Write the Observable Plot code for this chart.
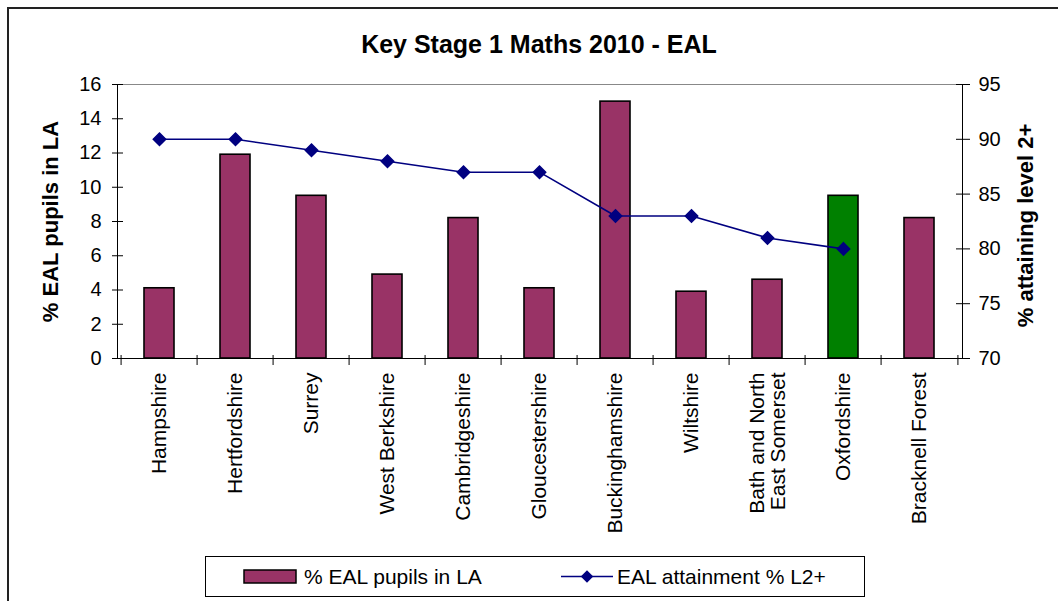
<!DOCTYPE html>
<html>
<head>
<meta charset="utf-8">
<script src="https://cdn.jsdelivr.net/npm/d3@7"></script>
<script src="https://cdn.jsdelivr.net/npm/@observablehq/plot@0.6"></script>
<style>
  body { margin: 0; background: #fff; }
  #wrap { position: relative; width: 1058px; height: 601px; overflow: hidden; background: #fff; font-family: "Liberation Sans", Arial, sans-serif; }
  #frame { position: absolute; left: 7px; top: 7px; width: 1100px; height: 700px; border: 2px solid #222; box-sizing: border-box; z-index: 3; pointer-events: none; }
  #title { position: absolute; left: 0; top: 30px; width: 1078px; text-align: center; font-weight: bold; font-size: 25px; color: #000; }
  #chart { position: absolute; left: 0; top: 64px; }
  #legend { position: absolute; left: 205px; top: 556px; width: 660px; height: 41px; border: 1px solid #000; box-sizing: border-box; background: #fff; }
  #legend svg { display: block; }
</style>
</head>
<body>
<div id="wrap">
  <div id="frame"></div>
  <div id="title">Key Stage 1 Maths 2010 - EAL</div>
  <div id="chart"></div>
  <div id="legend"></div>
</div>
<script>
// ---- data ----
const regions = ["Hampshire", "Hertfordshire", "Surrey", "West Berkshire", "Cambridgeshire", "Gloucestershire", "Buckinghamshire", "Wiltshire", "Bath and North East Somerset", "Oxfordshire", "Bracknell Forest"];
const regionLabels = ["Hampshire", "Hertfordshire", "Surrey", "West Berkshire", "Cambridgeshire", "Gloucestershire", "Buckinghamshire", "Wiltshire", "Bath and North\nEast Somerset", "Oxfordshire", "Bracknell Forest"];
const ealPct = [4.1, 11.9, 9.5, 4.9, 8.2, 4.1, 15.0, 3.9, 4.6, 9.5, 8.2];
const attainment = [90, 90, 89, 88, 87, 87, 83, 83, 81, 80, null];
const highlight = ["Oxfordshire"];
const leftTicks = [0, 2, 4, 6, 8, 10, 12, 14, 16];
const rightTicks = [70, 75, 80, 85, 90, 95];
const seriesNames = ["% EAL pupils in LA", "EAL attainment % L2+"];
const axisTitles = ["% EAL pupils in LA", "% attaining level 2+"];
const barColor = "#993366", highlightColor = "#008000", lineColor = "#000080";

// ---- build ----
const rows = regions.map((r, i) => ({region: r, label: regionLabels[i], eal: ealPct[i], att: attainment[i]}));
const rMin = rightTicks[0], rMax = rightTicks[rightTicks.length - 1];
const lMax = leftTicks[leftTicks.length - 1];
const toLeft = v => (v - rMin) / (rMax - rMin) * lMax;
const fromLeft = v => rMin + v / lMax * (rMax - rMin);

const W = 1058, H = 481, mt = 20, mb = 187, ml = 117, mr = 96;
const pw = W - ml - mr, ph = H - mt - mb;
const step = pw / regions.length;
const font = "Liberation Sans, Arial, sans-serif";

const chart = Plot.plot({
  width: W, height: H,
  marginTop: mt, marginBottom: mb, marginLeft: ml, marginRight: mr,
  style: {fontFamily: font, fontSize: "20px", color: "#000", background: "none", overflow: "visible"},
  x: {type: "band", domain: regions, paddingInner: 0.6, paddingOuter: 0.3, axis: null},
  y: {domain: [0, lMax], axis: null},
  color: {type: "identity"},
  marks: [
    Plot.frame({stroke: "#000", strokeWidth: 1}),
    Plot.ruleY([lMax], {stroke: "#888", strokeWidth: 1.2}),
    Plot.barY(rows, {x: "region", y: "eal", fill: d => highlight.includes(d.region) ? highlightColor : barColor, stroke: "#000", strokeWidth: 1.6}),
    Plot.line(rows.filter(d => d.att != null), {x: "region", y: d => toLeft(d.att), stroke: lineColor, strokeWidth: 1.6}),
    Plot.dot(rows.filter(d => d.att != null), {x: "region", y: d => toLeft(d.att), symbol: "diamond2", r: 5.6, fill: lineColor, stroke: lineColor}),
    // left axis
    Plot.axisY(leftTicks, {anchor: "left", tickSize: 5, tickPadding: 11, fontSize: 20, label: null}),
    Plot.ruleY(leftTicks, {insetRight: pw - 6, stroke: "#000"}),
    // right axis
    Plot.axisY(rightTicks.map(toLeft), {anchor: "right", tickSize: 7, tickPadding: 9, fontSize: 20, label: null, tickFormat: v => String(Math.round(fromLeft(v)))}),
    Plot.ruleY(rightTicks.map(toLeft), {insetLeft: pw - 6, stroke: "#000"}),
    // x axis: category boundary ticks and rotated labels
    Plot.ruleX(regions, {x: d => d, dx: -step / 2, insetTop: ph - 3, insetBottom: -7, stroke: "#000"}),
    Plot.ruleX([regions[regions.length - 1]], {x: d => d, dx: step / 2, insetTop: ph - 3, insetBottom: -7, stroke: "#000"}),
    Plot.axisX({anchor: "bottom", tickSize: 0, tickPadding: 14, tickRotate: -90, fontSize: 21, label: null, tickFormat: d => regionLabels[regions.indexOf(d)]}),
    // axis titles
    Plot.text([axisTitles[0]], {frameAnchor: "left", dx: -67, rotate: -90, fontWeight: "bold", fontSize: 22, textAnchor: "middle"}),
    Plot.text([axisTitles[1]], {frameAnchor: "right", dx: 63, dy: 4, rotate: -90, fontWeight: "bold", fontSize: 22, textAnchor: "middle"})
  ]
});
document.getElementById("chart").appendChild(chart);

// ---- legend ----
const lg = d3.select("#legend").append("svg").attr("width", 658).attr("height", 39)
  .style("font-family", font).style("font-size", "21px");
lg.append("rect").attr("x", 38).attr("y", 13).attr("width", 52).attr("height", 13)
  .attr("fill", barColor).attr("stroke", "#000").attr("stroke-width", 1.5);
lg.append("text").attr("x", 98).attr("y", 27).text(seriesNames[0]);
lg.append("line").attr("x1", 355).attr("x2", 407).attr("y1", 19.5).attr("y2", 19.5)
  .attr("stroke", lineColor).attr("stroke-width", 1.6);
lg.append("path").attr("d", d3.symbol(d3.symbolDiamond2, 100)()).attr("transform", "translate(381,19.5)")
  .attr("fill", lineColor);
lg.append("text").attr("x", 411).attr("y", 27).text(seriesNames[1]);
</script>
</body>
</html>
